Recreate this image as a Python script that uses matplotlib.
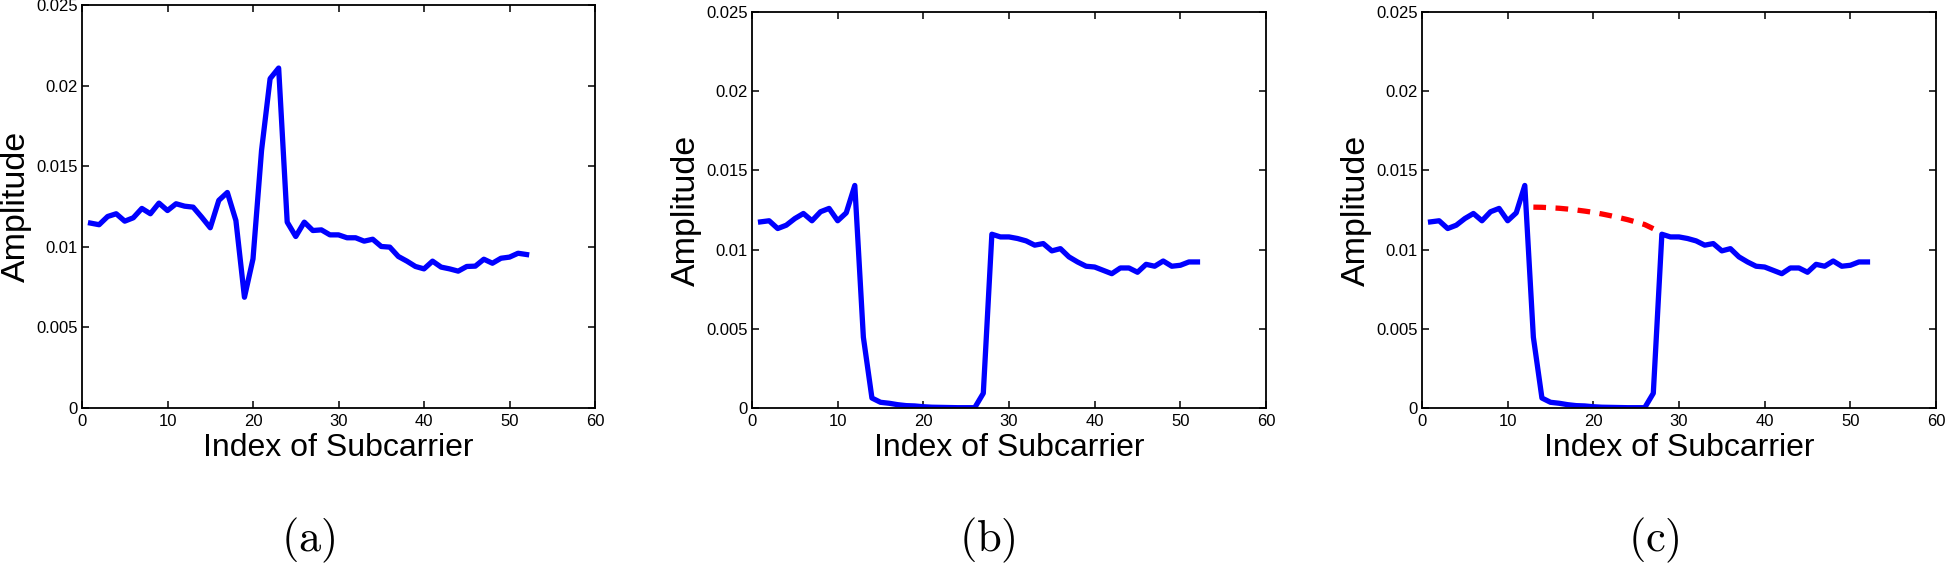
import matplotlib

matplotlib.use("Agg")
import matplotlib.pyplot as plt
from matplotlib.ticker import FixedLocator, FuncFormatter

plt.rcParams["font.family"] = ["Liberation Sans", "DejaVu Sans"]
plt.rcParams["mathtext.fontset"] = "cm"

FIG_W, FIG_H = 1946, 564

# subcarrier index 1..52
SUBCARRIERS = list(range(1, 53))

# (a) raw amplitude with a spike around subcarriers 19-23
AMP_A = [
    0.01147, 0.01137, 0.01188, 0.01205, 0.01159, 0.01180, 0.01238, 0.01205,
    0.01271, 0.01225, 0.01267, 0.01252, 0.01246, 0.01184, 0.01118, 0.01288,
    0.01337, 0.01163, 0.00687, 0.00925, 0.01598, 0.02043, 0.02109, 0.01153,
    0.01064, 0.01153, 0.01101, 0.01105, 0.01074, 0.01074, 0.01056, 0.01056,
    0.01035, 0.01047, 0.01002, 0.00998, 0.00940, 0.00911, 0.00878, 0.00863,
    0.00911, 0.00874, 0.00863, 0.00849, 0.00878, 0.00880, 0.00923, 0.00898,
    0.00929, 0.00936, 0.00960, 0.00952,
]

# (b) and (c) amplitude with the blocked band of subcarriers
AMP_B = [
    0.01175, 0.01182, 0.01133, 0.01154, 0.01196, 0.01228, 0.01182, 0.01239,
    0.01260, 0.01182, 0.01232, 0.01405, 0.00447, 0.00063, 0.00036, 0.00030,
    0.00021, 0.00015, 0.00013, 0.00008, 0.00005, 0.00004, 0.00003, 0.00002,
    0.00002, 0.00002, 0.00093, 0.01097, 0.01080, 0.01080, 0.01070, 0.01055,
    0.01028, 0.01038, 0.00992, 0.01006, 0.00954, 0.00922, 0.00895, 0.00890,
    0.00869, 0.00848, 0.00884, 0.00884, 0.00857, 0.00907, 0.00895, 0.00928,
    0.00895, 0.00901, 0.00922, 0.00922,
]

# (c) recovered curve over the blocked band
FIT_X = list(range(13, 28))
FIT_Y = [
    0.01268, 0.01267, 0.01264, 0.01261, 0.01256, 0.01250, 0.01243, 0.01235,
    0.01225, 0.01214, 0.01202, 0.01189, 0.01174, 0.01158, 0.01132,
]

X_TICKS = [0, 10, 20, 30, 40, 50, 60]
Y_TICKS = [0, 0.005, 0.01, 0.015, 0.02, 0.025]
PANEL_LABELS = ["(a)", "(b)", "(c)"]

BLUE = "#0000ff"
RED = "#ff0000"


def axes_rect(left, top, right, bottom):
    return [left / FIG_W, 1 - bottom / FIG_H, (right - left) / FIG_W, (bottom - top) / FIG_H]


def style_axes(ax):
    ax.set_xlim(0, 60)
    ax.set_ylim(0, 0.025)
    ax.xaxis.set_major_locator(FixedLocator(X_TICKS))
    ax.yaxis.set_major_locator(FixedLocator(Y_TICKS))
    ax.yaxis.set_major_formatter(FuncFormatter(lambda v, _: f"{v:g}"))
    ax.xaxis.set_major_formatter(FuncFormatter(lambda v, _: f"{v:g}"))
    ax.tick_params(direction="in", length=5, width=1.1, top=True, right=True,
                   labelsize=12, pad=4)
    ax.tick_params(axis="y", pad=3)
    for spine in ax.spines.values():
        spine.set_linewidth(1.3)
    ax.set_xlabel("Index of Subcarrier", fontsize=23, labelpad=3)
    ax.set_ylabel("Amplitude", fontsize=24.5, labelpad=3)


fig = plt.figure(figsize=(FIG_W / 100, FIG_H / 100), dpi=100)

ax_a = fig.add_axes(axes_rect(82, 5, 595, 408))
ax_b = fig.add_axes(axes_rect(752, 12, 1266, 408))
ax_c = fig.add_axes(axes_rect(1422, 12, 1936, 408))

ax_a.plot(SUBCARRIERS, AMP_A, color=BLUE, linewidth=3.8)
ax_b.plot(SUBCARRIERS, AMP_B, color=BLUE, linewidth=3.8)
ax_c.plot(FIT_X, FIT_Y, color=RED, linewidth=3.8, linestyle=(0, (2.4, 1.8)))
ax_c.plot(SUBCARRIERS, AMP_B, color=BLUE, linewidth=3.8)

for ax in (ax_a, ax_b, ax_c):
    style_axes(ax)

for label, x_px in zip(PANEL_LABELS, [308, 987, 1654]):
    fig.text(x_px / FIG_W, 1 - 540 / FIG_H, rf"$\mathrm{{{label}}}$",
             fontsize=32, ha="center", va="center")

fig.savefig("out.png", dpi=100)
